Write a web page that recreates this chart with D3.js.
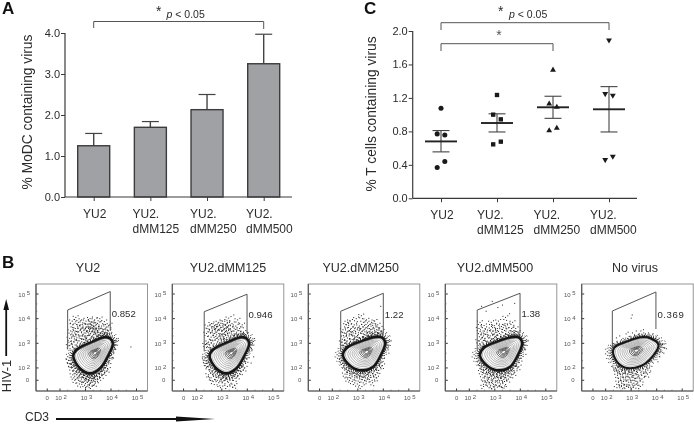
<!DOCTYPE html>
<html><head><meta charset="utf-8">
<script src="https://cdn.jsdelivr.net/npm/d3@7/dist/d3.min.js"></script>
<style>html,body{margin:0;padding:0;background:#fff}svg{display:block;filter:blur(.35px)}text{font-family:"Liberation Sans",Arial,sans-serif}</style>
</head><body><svg id="c" width="694" height="424"></svg>
<script>
// ---- Panel A
const categories = ["YU2", "YU2.|dMM125", "YU2.|dMM250", "YU2.|dMM500"];
const barValues = [1.25, 1.70, 2.13, 3.25];
const barErrTop = [1.55, 1.84, 2.50, 3.97];
const barTicks = [0, 1, 2, 3, 4];
// ---- Panel C
const tYU2 = [1.076, 0.77, 0.757, 0.44, 0.367];
const tM125 = [1.235, 1.0, 0.944, 0.677, 0.645];
const tM250 = [1.534, 1.13, 1.09, 0.84, 0.81];
const tM500 = [1.89, 1.25, 1.23, 0.50, 0.46];
const tMean = [0.68, 0.90, 1.088, 1.064];
const tErrHi = [0.81, 1.01, 1.22, 1.335];
const tErrLo = [0.555, 0.793, 0.956, 0.793];
const tTicks = [0, 0.4, 0.8, 1.2, 1.6, 2.0];
const tSide = [0, -1, 1, 1, -1];
// ---- Panel B
const flowTitles = ["YU2", "YU2.dMM125", "YU2.dMM250", "YU2.dMM500", "No virus"];
const flowGatePct = ["0.852", "0.946", "1.22", "1.38", "0.369"];
const flowGates = [
 [2.30,3.97,4.35,2.75,5.10,3.50],[2.31,3.99,4.28,2.67,4.99,3.42],[2.33,4.0,4.30,2.73,5.03,3.41],
 [2.31,3.99,4.35,2.73,5.03,3.41],[2.26,3.97,4.31,2.81,5.08,3.58]];
const outlineA = [[3.96,3.2],[4.07,3.0],[3.86,2.46],[3.57,1.99],[3.18,1.78],[2.78,1.99],[2.52,2.48],[2.65,2.73],[3.31,3.07],[3.76,3.24]];
const outlineB = [[3.97,3.22],[4.07,3.0],[3.88,2.48],[3.6,2.05],[3.2,1.9],[2.75,2.05],[2.42,2.5],[2.55,2.8],[3.2,3.1],[3.72,3.25]];
const outlineC = [[3.76,3.2],[4.07,2.93],[3.83,2.46],[3.37,2.08],[2.72,2.03],[2.36,2.39],[2.32,2.8],[2.85,3.07],[3.37,3.24]];
const flowOutlines = [outlineA, outlineA, outlineB, outlineB, outlineC];
const contourLevels = [0.9,0.8,0.71,0.62,0.54,0.46,0.38,0.3,0.23,0.16,0.1];
const decades = [2,3,4,5];
const cloudP1 = [[2.38,3.2],[2.42,3.5],[2.45,3.0],[2.5,3.75],[2.52,3.3],[2.55,3.05],[2.6,3.6],[2.62,4.05],[2.66,3.22],[2.7,3.45],[2.72,3.85],[2.75,3.1],[2.8,3.55],[2.82,3.3],[2.85,3.95],[2.9,3.7],[2.92,3.15],[2.95,3.42],[3.0,3.6],[3.02,3.9],[3.05,3.25],[3.08,3.5],[3.1,3.75],[3.14,3.15],[3.18,4.0],[3.2,3.4],[3.22,3.62],[3.25,3.85],[3.28,3.3],[3.3,3.55],[3.33,3.7],[3.36,3.95],[3.38,3.45],[3.4,3.2],[3.44,3.62],[3.47,3.8],[3.5,3.35],[3.53,3.55],[3.56,4.0],[3.6,3.4],[3.63,3.7],[3.66,3.32],[3.7,3.55],[3.74,3.88],[3.78,3.45],[3.82,3.66],[3.86,3.35],[3.9,3.5],[3.95,3.75],[2.35,2.9],[2.48,3.9],[2.58,3.42],[2.78,3.7],[2.98,3.25],[3.12,3.6],[3.24,3.75],[3.42,3.55],[3.58,3.25],[4.2,3.1],[4.15,2.75],[4.15,2.9],[4.78,2.85]];
const skirtP1 = [[2.45,2.0],[2.5,1.72],[2.55,2.1],[2.58,1.5],[2.62,1.85],[2.68,1.62],[2.72,1.95],[2.76,1.35],[2.8,1.75],[2.84,1.55],[2.88,1.85],[2.92,1.42],[2.96,1.7],[3.0,1.2],[3.02,1.55],[3.06,1.65],[3.1,1.32],[3.14,1.5],[3.18,1.6],[3.22,1.42],[3.26,1.25],[3.3,1.58],[3.34,1.65],[3.38,1.38],[3.42,1.7],[3.46,1.52],[3.5,1.78],[3.55,1.62],[3.6,1.85],[3.65,1.7],[3.7,1.95],[3.76,1.82],[3.82,2.1],[3.88,1.95],[3.95,2.3],[2.35,2.3],[2.4,2.15],[4.02,2.55],[4.1,2.4]];
const cloudP2 = [[2.4,3.4],[2.45,3.7],[2.48,3.05],[2.52,3.55],[2.58,3.25],[2.6,3.8],[2.65,3.1],[2.7,3.62],[2.72,3.4],[2.76,3.75],[2.8,3.2],[2.84,3.52],[2.88,3.85],[2.9,3.3],[2.95,3.65],[2.98,3.1],[3.0,3.48],[3.03,3.9],[3.06,3.25],[3.1,3.6],[3.12,3.75],[3.15,3.35],[3.18,3.52],[3.2,3.15],[3.24,3.68],[3.27,4.02],[3.3,3.42],[3.33,3.6],[3.36,3.25],[3.4,3.8],[3.44,3.5],[3.47,4.15],[3.5,3.3],[3.55,3.7],[3.58,3.45],[3.62,3.95],[3.66,3.35],[3.7,3.6],[3.75,3.3],[3.8,3.75],[3.85,3.45],[3.92,3.35],[2.36,2.95],[2.5,2.95],[2.62,3.5],[2.82,3.68],[3.02,3.3],[3.22,3.85],[4.2,3.0],[4.18,2.7],[4.25,2.45],[4.15,2.2]];
const skirtP2 = [[2.45,2.05],[2.48,1.72],[2.52,2.15],[2.58,1.6],[2.62,1.88],[2.66,1.45],[2.72,1.8],[2.78,1.62],[2.82,1.95],[2.88,1.4],[2.92,1.72],[2.98,1.55],[3.02,1.8],[3.08,1.48],[3.12,1.68],[3.18,1.58],[3.22,1.25],[3.26,1.7],[3.32,1.5],[3.38,1.62],[3.42,1.22],[3.46,1.78],[3.52,1.58],[3.58,1.82],[3.64,1.68],[3.7,1.98],[3.76,1.85],[3.84,2.12],[3.9,2.0],[3.98,2.35],[2.34,2.4],[2.38,2.18],[2.95,1.2],[3.5,1.3]];
const cloudP3 = [[2.38,3.05],[2.42,3.55],[2.46,3.25],[2.5,3.4],[2.55,3.75],[2.58,3.1],[2.62,3.5],[2.66,3.3],[2.7,3.9],[2.74,3.6],[2.78,3.15],[2.82,3.42],[2.86,3.75],[2.9,3.25],[2.94,4.0],[2.98,3.55],[3.02,3.35],[3.06,3.7],[3.1,3.2],[3.14,4.12],[3.18,3.5],[3.22,3.85],[3.26,3.35],[3.3,3.62],[3.34,3.95],[3.38,3.42],[3.42,3.72],[3.46,3.28],[3.5,3.55],[3.54,3.85],[3.58,3.38],[3.62,3.65],[3.66,3.9],[3.7,3.35],[3.74,3.55],[3.78,3.75],[3.82,3.42],[3.86,3.62],[3.9,3.35],[3.94,3.5],[2.48,3.0],[2.6,3.85],[2.76,3.45],[2.96,3.15],[3.12,3.6],[3.28,3.2],[3.48,3.4],[3.68,3.25],[3.9,4.5],[4.12,3.05],[4.2,2.85],[4.22,2.6]];
const skirtP3 = [[2.45,2.1],[2.5,1.75],[2.55,2.0],[2.6,1.55],[2.64,1.9],[2.68,1.7],[2.74,1.95],[2.78,1.45],[2.84,1.8],[2.88,1.6],[2.94,1.88],[2.98,1.35],[3.02,1.72],[3.08,1.55],[3.12,1.78],[3.16,1.25],[3.22,1.62],[3.28,1.48],[3.34,1.72],[3.4,1.55],[3.46,1.82],[3.52,1.62],[3.58,1.4],[3.64,1.85],[3.7,1.72],[3.76,2.02],[3.82,1.9],[3.9,2.2],[3.96,2.1],[4.05,2.4],[2.38,2.3],[3.72,1.6]];
const cloudP4 = [[2.36,3.1],[2.38,3.6],[2.42,3.85],[2.46,3.35],[2.5,3.05],[2.54,3.5],[2.58,3.72],[2.62,3.2],[2.66,4.3],[2.7,3.45],[2.74,3.05],[2.78,3.62],[2.82,3.3],[2.86,3.85],[2.9,3.18],[2.94,3.5],[2.98,3.72],[3.02,3.28],[3.06,3.05],[3.1,3.6],[3.14,3.9],[3.18,3.4],[3.22,3.15],[3.26,3.68],[3.3,4.55],[3.34,3.3],[3.38,3.52],[3.42,4.05],[3.46,3.25],[3.5,3.75],[3.54,3.45],[3.58,4.2],[3.62,3.3],[3.66,3.6],[3.7,3.85],[3.74,3.42],[3.78,4.62],[3.82,3.6],[3.86,3.3],[3.9,3.45],[2.48,4.5],[2.9,4.7],[3.02,3.45],[3.12,4.45],[3.4,3.72],[2.56,3.3],[3.16,3.2],[4.12,2.95],[4.18,2.75],[4.22,2.55]];
const skirtP4 = [[2.42,2.2],[2.46,1.85],[2.5,2.05],[2.54,1.6],[2.58,1.9],[2.62,1.42],[2.66,1.75],[2.7,1.55],[2.74,1.9],[2.78,1.35],[2.82,1.68],[2.86,1.5],[2.9,1.82],[2.94,1.25],[2.98,1.6],[3.02,1.42],[3.06,1.75],[3.1,1.22],[3.14,1.55],[3.18,1.7],[3.22,1.35],[3.26,1.58],[3.3,1.2],[3.34,1.72],[3.38,1.45],[3.42,1.62],[3.48,1.8],[3.54,1.55],[3.6,1.88],[3.66,1.72],[3.72,2.0],[3.78,1.82],[3.86,2.15],[3.94,2.05],[4.02,2.4],[2.56,1.25],[2.88,1.15],[3.36,1.18]];
const cloudP5 = [[2.42,3.22],[2.55,3.3],[2.68,3.2],[2.8,3.38],[2.92,3.28],[3.05,3.42],[3.15,3.3],[3.2,3.5],[3.3,3.35],[3.38,3.5],[3.5,3.32],[3.62,3.28],[3.04,4.15],[3.0,4.02],[3.48,3.55],[2.88,3.45],[4.1,3.0],[4.2,2.9],[4.3,2.82],[4.38,2.78],[4.15,2.65],[4.28,2.6],[4.12,2.45],[4.05,2.25],[3.72,2.0]];
const skirtP5 = [[2.42,1.95],[2.46,1.7],[2.5,1.42],[2.54,1.85],[2.58,1.55],[2.62,1.28],[2.66,1.72],[2.7,1.45],[2.74,1.88],[2.78,1.6],[2.82,1.25],[2.86,1.75],[2.9,1.42],[2.94,1.6],[2.98,1.22],[3.02,1.82],[3.06,1.5],[3.1,1.7],[3.14,1.3],[3.18,1.58],[3.22,1.85],[3.26,1.42],[3.3,1.68],[3.36,1.25],[3.42,1.55],[3.48,1.78],[3.56,1.92],[3.64,1.75],[2.38,2.0],[2.44,1.2],[2.72,1.2],[3.0,1.16]];
const flowDots = [cloudP1.concat(skirtP1), cloudP2.concat(skirtP2), cloudP3.concat(skirtP3), cloudP4.concat(skirtP4), cloudP5.concat(skirtP5)];

const svg = d3.select("#c");
svg.append("rect").attr("width",694).attr("height",424).attr("fill","#fff");
const ink = "#3a3a3a";
const txt = (g,x,y,s,size,opt={}) => g.append("text").attr("x",x).attr("y",y).attr("font-size",size)
  .attr("fill",opt.fill||"#2b2b2b").attr("text-anchor",opt.anchor||"start").attr("font-weight",opt.weight||null)
  .attr("font-style",opt.style||null).attr("transform",opt.transform||null).text(s);
const seg = (g,x1,y1,x2,y2,w,c) => g.append("line").attr("x1",x1).attr("y1",y1).attr("x2",x2).attr("y2",y2)
  .attr("stroke",c||ink).attr("stroke-width",w);

function drawFrame(g, x, y, xLeft, xRight, base, yTop, ticks, fmt, labelStarts){
  g.append("g").attr("transform",`translate(0,${base})`)
   .call(d3.axisBottom(x).tickValues(d3.range(categories.length)).tickSize(4).tickFormat(""))
   .call(a=>{a.select(".domain").attr("d",`M${xLeft},0H${xRight}`).attr("stroke",ink).attr("stroke-width",1.2);
             a.selectAll("line").attr("stroke",ink).attr("stroke-width",1);});
  g.append("g").attr("transform",`translate(${xLeft},0)`)
   .call(d3.axisLeft(y).tickValues(ticks).tickSize(4).tickFormat(fmt))
   .call(a=>{a.select(".domain").attr("d",`M0,${yTop}V${base}`).attr("stroke",ink).attr("stroke-width",1.2);
             a.selectAll("line").attr("stroke",ink).attr("stroke-width",1);
             a.selectAll("text").attr("font-size",11).attr("fill","#2b2b2b").attr("font-family",null).attr("x",-5);});
  categories.forEach((c,i)=>{
    const p=c.split("|");
    if(p.length===1) txt(g,x(i)+1,base+21,p[0],12,{anchor:"middle"});
    else { txt(g,labelStarts[i],base+21,p[0],12); txt(g,labelStarts[i],base+36,p[1],12); }
  });
}

// ---------- A
const gA = svg.append("g");
const xA = d3.scaleLinear().domain([0,3]).range([93.7,263.7]);
const yA = d3.scaleLinear().domain([0,4]).range([197,33]);
barValues.forEach((v,i)=>{
  seg(gA,xA(i),yA(v),xA(i),yA(barErrTop[i]),1.4,"#444");
  seg(gA,xA(i)-8.5,yA(barErrTop[i]),xA(i)+8.5,yA(barErrTop[i]),1.2,"#444");
});
gA.selectAll("rect").data(barValues).join("rect")
  .attr("x",(d,i)=>xA(i)-16).attr("width",32).attr("y",d=>yA(d)).attr("height",d=>yA(0)-yA(d))
  .attr("fill","#a0a1a4").attr("stroke","#3c3c3c").attr("stroke-width",1.4);
drawFrame(gA,xA,yA,65,292,197,33,barTicks,d3.format(".1f"),[0,132.5,190,246]);
txt(gA,0,0,"% MoDC containing virus",13.8,{anchor:"middle",transform:"translate(32,112) rotate(-90)"});
txt(gA,2,14,"A",17,{weight:"bold",fill:"#111"});
gA.append("path").attr("fill","none").attr("stroke","#555").attr("stroke-width",1)
  .attr("d",`M${xA(0)},28V21.5H${xA(3)}V29`);
txt(gA,156,16,"*",14);
const pA=txt(gA,166.5,18,"",10.5); pA.append("tspan").attr("font-style","italic").text("p"); pA.append("tspan").text(" < 0.05");

// ---------- C
const gC = svg.append("g");
const xC = d3.scaleLinear().domain([0,3]).range([441,609]);
const yC = d3.scaleLinear().domain([0,2]).range([198.3,31]);
const jitter = 0.068;
const shapes = [d3.symbolCircle,d3.symbolSquare,d3.symbolTriangle,d3.symbolTriangle];
[tYU2,tM125,tM250,tM500].forEach((s,i)=>{
  seg(gC,xC(i),yC(tErrLo[i]),xC(i),yC(tErrHi[i]),1.1,"#444");
  seg(gC,xC(i)-8.5,yC(tErrHi[i]),xC(i)+8.5,yC(tErrHi[i]),1.1,"#444");
  seg(gC,xC(i)-8.5,yC(tErrLo[i]),xC(i)+8.5,yC(tErrLo[i]),1.1,"#444");
  seg(gC,xC(i)-16,yC(tMean[i]),xC(i)+16,yC(tMean[i]),1.9,"#222");
  s.forEach((v,j)=>{
    const sym=d3.symbol().type(shapes[i]).size(i===1?19:i===0?20:15)();
    gC.append("path").attr("d",sym).attr("fill","#1a1a1a")
      .attr("transform",`translate(${xC(i+tSide[j]*jitter)},${yC(v)})${i===3?" rotate(180)":""}`);
  });
});
drawFrame(gC,xC,yC,412.7,637,198.3,31,tTicks,d3.format(".1f"),[0,477,533.5,590]);
txt(gC,0,0,"% T cells containing virus",13.8,{anchor:"middle",transform:"translate(376,114) rotate(-90)"});
txt(gC,364,14,"C",17,{weight:"bold",fill:"#111"});
gC.append("path").attr("fill","none").attr("stroke","#555").attr("stroke-width",1)
  .attr("d",`M${xC(0)},30V22.7H${xC(3)}V30`);
gC.append("path").attr("fill","none").attr("stroke","#555").attr("stroke-width",1)
  .attr("d",`M${xC(0)},51V43.7H${xC(2)}V51`);
txt(gC,499,40,"*",14,{anchor:"middle",fill:"#555"});
txt(gC,498,16,"*",14);
const pC=txt(gC,509,18,"",10.5); pC.append("tspan").attr("font-style","italic").text("p"); pC.append("tspan").text(" < 0.05");

// ---------- B
const lefts=[36,172.3,308.3,445.3,581.7], flowTop=284, W=111.5, H=107;
const titleX=[88,228,360.7,495,635];
const pctY=[316.7,318,317.7,316.5,317.5];
const echoes=[[2.3,-1.6],[-1.7,2.1],[1.1,3.0],[-2.6,-1.1]];
const gB = svg.append("g");
flowTitles.forEach((t,i)=>{
  const g=gB.append("g");
  const L=lefts[i];
  const x=d3.scaleLinear().domain([2,5]).range([L+24,L+100.5]);
  const y=d3.scaleLinear().domain([3,5]).range([flowTop+59.3,flowTop+10]);
  txt(g,titleX[i],272,t,12.5,{anchor:"middle"});
  g.append("rect").attr("x",L).attr("y",flowTop).attr("width",W).attr("height",H).attr("fill","#fff").attr("stroke","#8a8a8a").attr("stroke-width",0.9);
  const tk=[1.5,2,3,4,5];
  tk.forEach(d=>{
    seg(g,x(d),flowTop+H,x(d),flowTop+H-2.5,1,"#333");
    seg(g,L,y(d),L+2.5,y(d),1,"#333");
    [0.3,0.6].forEach(m=>{ if(d>1.5&&d<5){ seg(g,x(d+m),flowTop+H,x(d+m),flowTop+H-1.3,.7,"#666"); seg(g,L,y(d+m),L+1.3,y(d+m),.7,"#666"); }});
  });
  seg(g,L,flowTop,L,flowTop+H,1.2,"#555");
  seg(g,L,flowTop+H,L+W,flowTop+H,1.1,"#555");
  const lab=(xx,yy,e,anchor)=>{
    const tt=txt(g,xx,yy,"",6,{anchor,fill:"#555"});
    if(e===null) tt.text("0"); else { tt.append("tspan").text("10 "); tt.append("tspan").attr("dy",-1.5).text(e); }
  };
  lab(x(1.5),flowTop+116,null,"middle");
  decades.forEach(d=>lab(x(d)+1,flowTop+116,d,"middle"));
  lab(L-7,y(1.5)+2,null,"end");
  decades.forEach(d=>lab(L-6,y(d)+2.5,d,"end"));
  // events, each dense-region event echoed with small offsets for density
  const ev=[];
  flowDots[i].forEach(d=>{
    ev.push([x(d[0]),y(d[1])]);
    const dense = d[0]<4.05 && d[1]<(i===4?2.3:4.15);
    if(dense) echoes.forEach(e=>{ const py=y(d[1])+e[1]; if(py<flowTop+H-2) ev.push([x(d[0])+e[0],py]); });
  });
  g.selectAll("rect.ev").data(ev).join("rect").attr("class","ev")
    .attr("x",d=>d[0]-.5).attr("y",d=>d[1]-.5).attr("width",1).attr("height",1).attr("fill","#222");
  const o=flowOutlines[i];
  const cx=d3.mean(o,d=>d[0])+0.02, cy=d3.mean(o,d=>d[1])+0.02;
  const line=k=>d3.line().curve(d3.curveCatmullRomClosed.alpha(.5))
    .x(d=>x(cx+(d[0]-cx)*k)).y(d=>y(cy+(d[1]-cy)*k))(o);
  [[1.07,"1 .8",1.2],[1.12,"1 1.3",1.1],[1.18,"1 1.9",1],[1.25,"1 2.7",1],[1.33,"1 3.7",.9]].forEach(r=>{
    g.append("path").attr("d",line(r[0])).attr("fill","none").attr("stroke","#1c1c1c").attr("stroke-width",r[2]).attr("stroke-dasharray",r[1]);
  });
  g.append("path").attr("d",line(1)).attr("fill","#fff").attr("stroke","#161616").attr("stroke-width",i===4?2.2:2.6);
  contourLevels.forEach((k,n)=>{
    g.append("path").attr("d",line(k)).attr("fill","none")
      .attr("stroke",n>6?"#333":"#777").attr("stroke-width",n>6?0.8:0.55);
  });
  const q=flowGates[i];
  g.append("path").attr("fill","none").attr("stroke","#555").attr("stroke-width",1)
   .attr("d",d3.line()([[x(q[0]),y(q[3])],[x(q[0]),y(q[2])],[x(q[1]),y(q[4])],[x(q[1]),y(q[5])]]));
  const lt=txt(g,x(q[1])+1.5,pctY[i],flowGatePct[i],9.6);
  if(i===4) lt.attr("letter-spacing",0.6);
});
txt(gB,2,268,"B",17,{weight:"bold",fill:"#111"});
txt(gB,0,0,"HIV-1",13,{anchor:"middle",transform:"translate(11,376) rotate(-90)"});
seg(gB,6.2,356,6.2,308,1.8,"#111");
gB.append("path").attr("d","M6.2,299L9,310H3.4Z").attr("fill","#111");
txt(gB,25,421,"CD3",12);
seg(gB,56,419,180,419,2,"#111");
gB.append("path").attr("d","M176,416.4L215,419L176,421.6Z").attr("fill","#111");
</script></body></html>
